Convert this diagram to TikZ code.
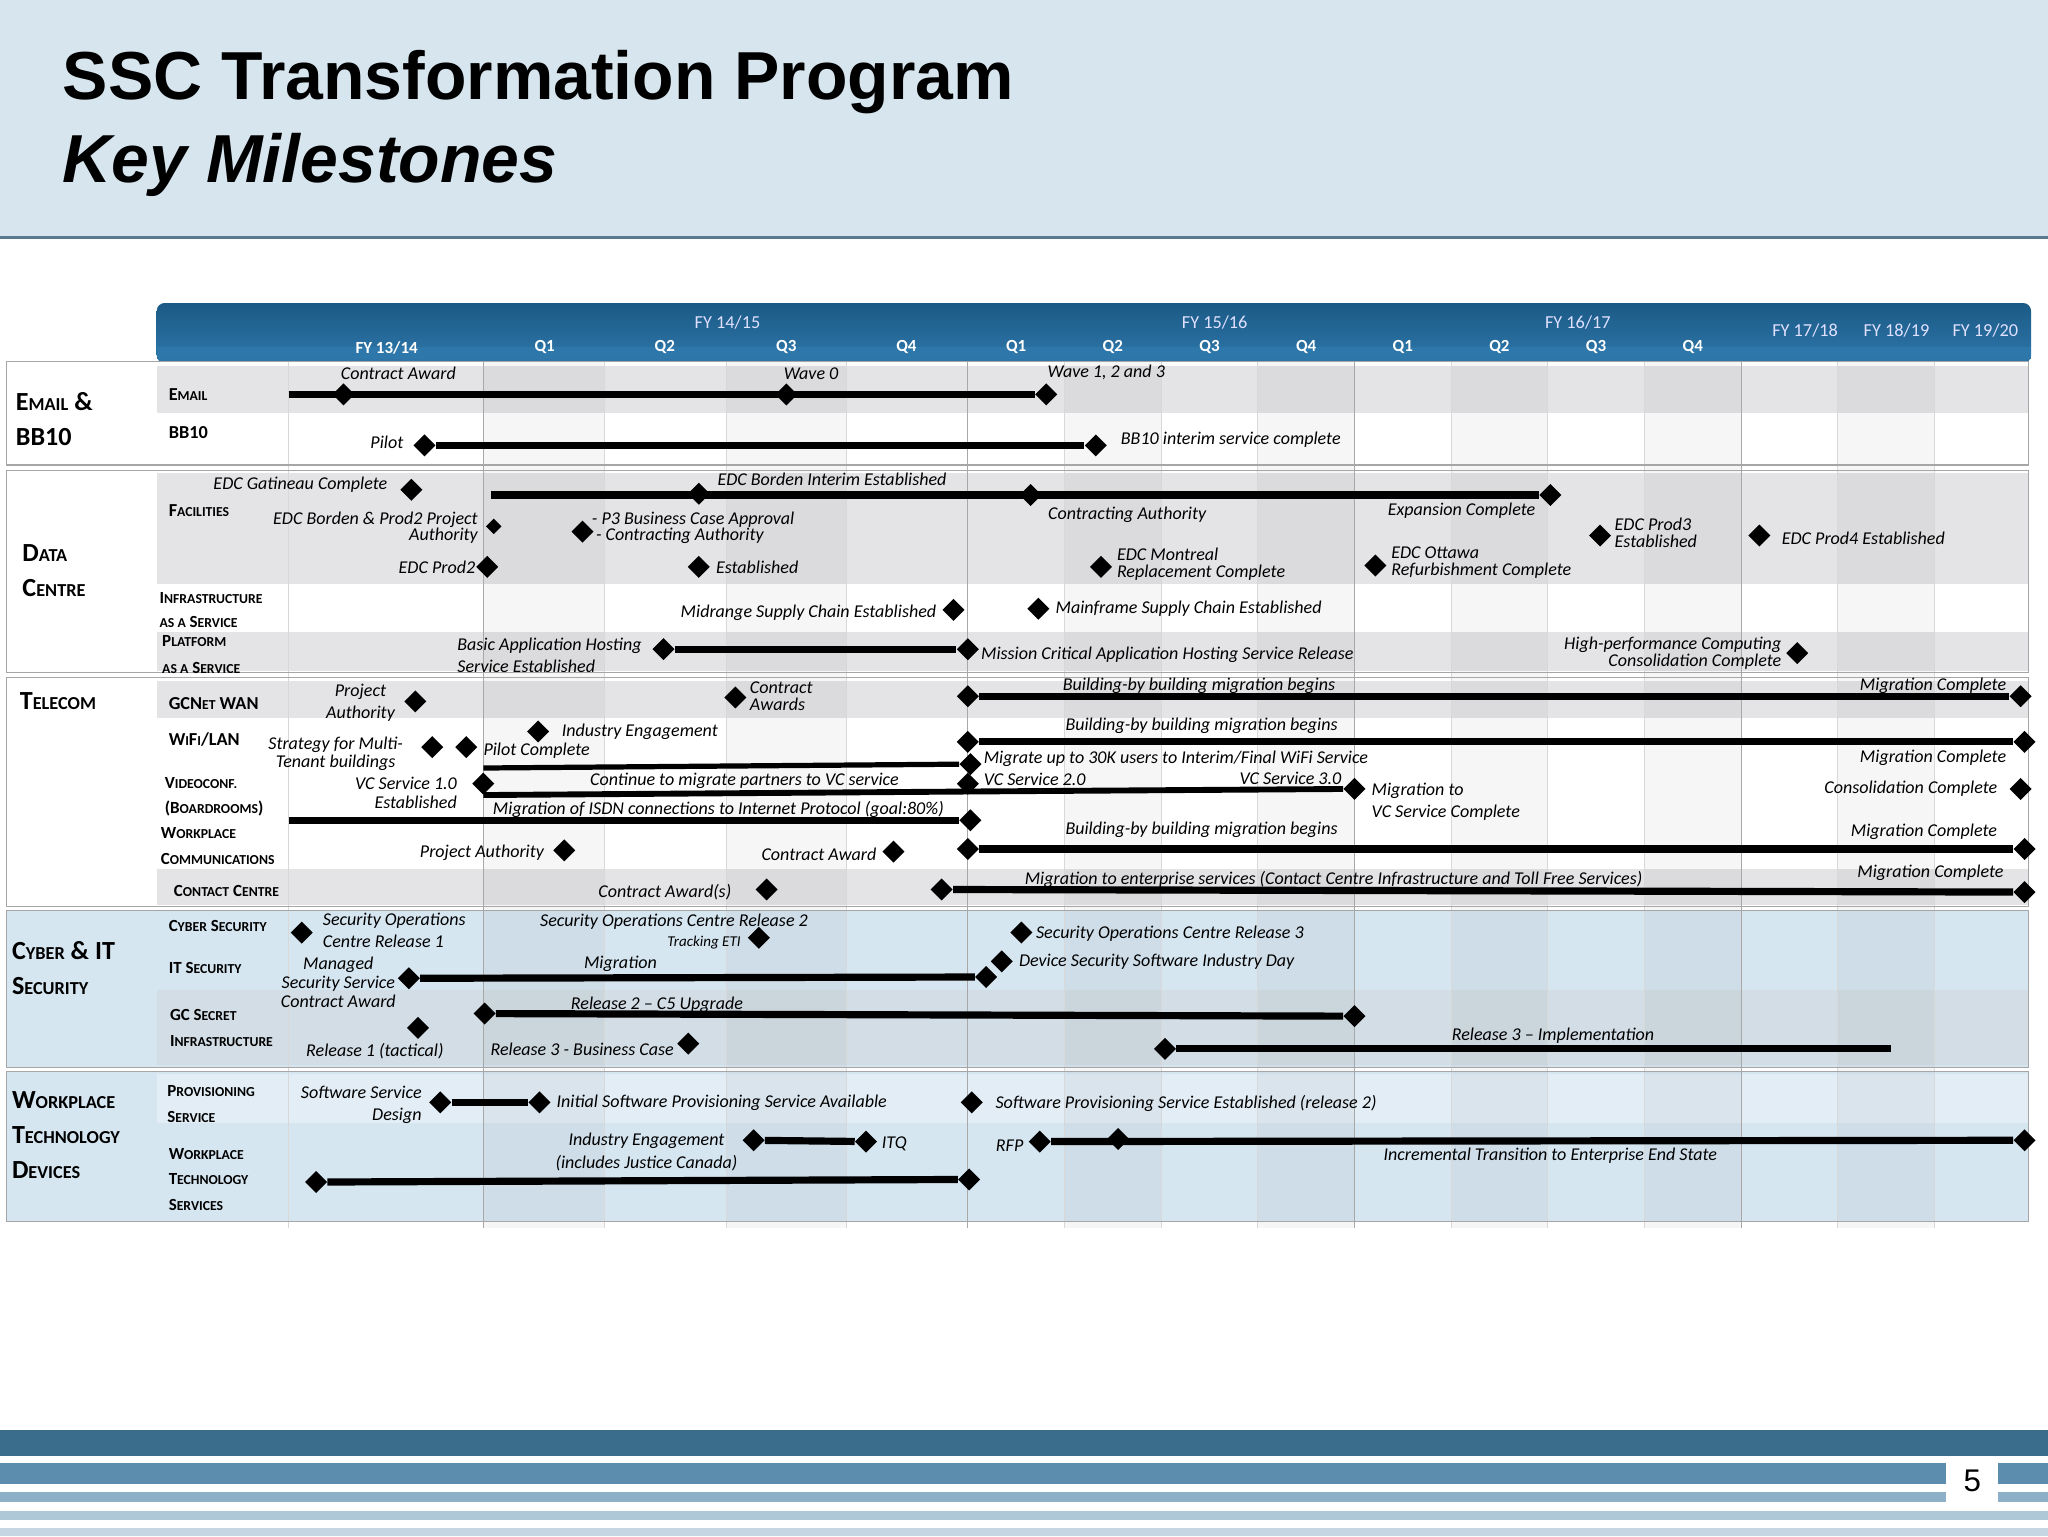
\documentclass[tikz,border=0pt]{standalone}
\usepackage{fontspec}
\setmainfont{Carlito}
\newfontfamily\titlefont{Liberation Sans}
\usetikzlibrary{shapes.geometric}
\definecolor{hdr}{HTML}{D7E5EF}
\definecolor{hline}{HTML}{5A7A90}
\definecolor{bartop}{HTML}{1B5A86}
\definecolor{barbot}{HTML}{2E77AA}
\definecolor{rowg}{HTML}{E4E4E6}
\definecolor{rowb}{HTML}{D6E6F1}
\definecolor{rowbg}{HTML}{D3DDE5}
\definecolor{gridl}{HTML}{D8D8D8}
\definecolor{gridd}{HTML}{A8A8A8}
\definecolor{f1}{HTML}{3A6C8C}
\definecolor{f2}{HTML}{5C8CAE}
\definecolor{f3}{HTML}{8DB0C8}
\newcommand\sm[1]{{\fontsize{10.5}{10.5}\selectfont #1}}
\newcommand\bsm[1]{{\fontsize{14}{14}\selectfont #1}}
\tikzset{
 ms/.style={diamond,fill=black,inner sep=0pt,minimum size=17pt},
 mss/.style={diamond,fill=black,inner sep=0pt,minimum size=12pt},
 bar/.style={line width=5.5pt},
 lb/.style={font=\fontsize{13.8}{14}\selectfont\itshape,inner sep=0pt,align=center},
 lbl/.style={lb,anchor=west,align=left},
 lbr/.style={lb,anchor=east,align=right},
 rl/.style={font=\bfseries\fontsize{14}{15}\selectfont,inner sep=0pt,anchor=west,align=left},
 sl/.style={font=\bfseries\fontsize{20}{27}\selectfont,inner sep=0pt,anchor=west,align=left},
 fy/.style={font=\fontsize{14}{14}\selectfont,text=white!88!blue,inner sep=0pt},
 qq/.style={font=\bfseries\fontsize{13}{13}\selectfont,text=white,inner sep=0pt},
}
\begin{document}
\begin{tikzpicture}[x=1pt,y=-1pt]
\useasboundingbox (0,0) rectangle (1568,1176);
\fill[white] (0,0) rectangle (1568,1176);
% header
\fill[hdr] (0,0) rectangle (1568,182);
\draw[hline,line width=2.5pt] (0,182) -- (1568,182);
\node[font=\titlefont\bfseries\fontsize{52}{52}\selectfont,anchor=west,inner sep=0] (t1) at (48,63) {SSC Transformation Program};
\node[font=\titlefont\bfseries\itshape\fontsize{52}{52}\selectfont,anchor=west,inner sep=0] (t2) at (48,126) {Key Milestones};
% timeline bar
\shade[top color=bartop,bottom color=barbot,rounded corners=6pt] (120,232) rectangle (1555,278);
\fill[barbot] (120,266) rectangle (1555,275);
\foreach \x/\t in {557/{FY 14/15},930/{FY 15/16},1208/{FY 16/17}}{\node[fy] at (\x,247) {\t};}
\foreach \x/\t in {1382/{FY 17/18},1452/{FY 18/19},1520/{FY 19/20}}{\node[fy] at (\x,253) {\t};}
\foreach \x/\t in {296/{FY 13/14},417/Q1,509/Q2,602/Q3,694/Q4,778/Q1,852/Q2,926/Q3,1000/Q4,1074/Q1,1148/Q2,1222/Q3,1296/Q4}{\node[qq] at (\x,266) {\t};}
% section boxes
\foreach \a/\b in {277/356,360/515,519/694}{\fill[white] (5,\a) rectangle (1553,\b);}
\foreach \a/\b in {697/817,820/935}{\fill[rowb] (5,\a) rectangle (1553,\b);}
% row bands
\fill[rowg] (120,280) rectangle (1553,316);
\fill[rowg] (120,362) rectangle (1553,447);
\fill[rowg] (120,484) rectangle (1553,514);
\fill[rowg] (120,521) rectangle (1553,550);
\fill[rowg] (120,665) rectangle (1553,693);
\fill[rowbg] (120,758) rectangle (1553,815);
\fill[rowb!70!white] (120,822) rectangle (1553,860);
% column stripes
\foreach \a/\b in {370/463,556/648,815/889,963/1037,1111/1185,1259/1333,1407/1481}{\fill[black,opacity=0.035] (\a,277) rectangle (\b,940);}
\foreach \x in {221,463,556,648,815,889,963,1111,1185,1259,1407,1481}{\draw[gridl,line width=0.6pt] (\x,277) -- (\x,940);}
\foreach \x in {370,741,1037,1333}{\draw[gridd,line width=0.8pt] (\x,277) -- (\x,940);}
\foreach \a/\b in {277/356,360/515,519/694,697/817,820/935}{\draw[gray!70,line width=0.8pt] (5,\a) rectangle (1553,\b);}
% section labels
\node[sl] (s1) at (12,321) {E\bsm{MAIL} \&\\BB10};
\node[sl] (s2) at (17,437) {D\bsm{ATA}\\C\bsm{ENTRE}};
\node[sl] (s3) at (15,537) {T\bsm{ELECOM}};
\node[sl] (s4) at (9,741) {C\bsm{YBER} \& IT\\S\bsm{ECURITY}};
\node[sl] (s5) at (9,869) {W\bsm{ORKPLACE}\\T\bsm{ECHNOLOGY}\\D\bsm{EVICES}};
% row labels
\node[rl] at (129,302) {E\sm{MAIL}};
\node[rl] at (129,331) {BB10};
\node[rl] at (129,391) {F\sm{ACILITIES}};
\node[rl,font=\bfseries\fontsize{13}{19}\selectfont] at (122,467) {I\sm{NFRASTRUCTURE}\\\sm{AS A} S\sm{ERVICE}};
\node[rl,font=\bfseries\fontsize{13}{21}\selectfont] at (124,501) {P\sm{LATFORM}\\\sm{AS A} S\sm{ERVICE}};
\node[rl] at (129,539) {GCN\sm{ET} WAN};
\node[rl] at (129,566) {W\sm{I}F\sm{I}/LAN};
\node[rl,font=\bfseries\fontsize{13}{19}\selectfont] at (126,610) {V\sm{IDEOCONF.}\\(B\sm{OARDROOMS})};
\node[rl,font=\bfseries\fontsize{13}{20}\selectfont] at (123,648) {W\sm{ORKPLACE}\\C\sm{OMMUNICATIONS}};
\node[rl,font=\bfseries\fontsize{13}{13}\selectfont] at (133,682) {C\sm{ONTACT} C\sm{ENTRE}};
\node[rl,font=\bfseries\fontsize{13}{13}\selectfont] at (129,709) {C\sm{YBER} S\sm{ECURITY}};
\node[rl,font=\bfseries\fontsize{13}{13}\selectfont] at (129,741) {IT S\sm{ECURITY}};
\node[rl,font=\bfseries\fontsize{13}{20}\selectfont] at (130,787) {GC S\sm{ECRET}\\I\sm{NFRASTRUCTURE}};
\node[rl,font=\bfseries\fontsize{13}{20}\selectfont] at (128,845) {P\sm{ROVISIONING}\\S\sm{ERVICE}};
\node[rl,font=\bfseries\fontsize{13}{19.5}\selectfont] at (129,903) {W\sm{ORKPLACE}\\T\sm{ECHNOLOGY}\\S\sm{ERVICES}};
% ===== Email
\coordinate (e0) at (221,302);
\node[ms] (e1) at (263,302) {}; \node[ms] (e2) at (602,302) {}; \node[ms] (e3) at (801,302) {};
\draw[bar] (e0) -- (e3);
\node[lb] at (305,286) {Contract Award}; \node[lb] at (621,286) {Wave 0}; \node[lb] at (847,285) {Wave 1, 2 and 3};
\node[ms] (b1) at (325,341) {}; \node[ms] (b2) at (839,341) {}; \draw[bar] (b1) -- (b2);
\node[lbr] at (309,339) {Pilot}; \node[lbl] at (858,337) {BB10 interim service complete};
% ===== Data centre
\node[lb] at (230,371) {EDC Gatineau Complete}; \node[ms] (d0) at (315,375) {};
\coordinate (d1) at (376,379); \node[ms] (d2) at (535,378) {}; \node[ms] (d3) at (789,379) {}; \node[ms] (d4) at (1187,379) {};
\draw[bar] (d1) -- (d4);
\node[lb] at (637,367) {EDC Borden Interim Established}; \node[lb] at (863,394) {Contracting Authority}; \node[lb] at (1119,391) {Expansion Complete};
\node[lbr,font=\fontsize{13.8}{13}\selectfont\itshape] at (366,404) {EDC Borden \& Prod2 Project\\Authority}; \node[mss] (d5) at (378,403) {};
\node[ms] (d6) at (446,407) {}; \node[lbl,font=\fontsize{13.8}{12}\selectfont\itshape] at (453,404) {- P3 Business Case Approval\\\ - Contracting Authority};
\node[lbr] at (364,434) {EDC Prod2}; \node[ms] (d7) at (373,434) {};
\node[ms] (d8) at (535,434) {}; \node[lbl] at (548,434) {Established};
\node[ms] (d9) at (843,434) {}; \node[lbl,font=\fontsize{13.8}{13}\selectfont\itshape] at (855,432) {EDC Montreal\\Replacement Complete};
\node[ms] (d10) at (1053,433) {}; \node[lbl,font=\fontsize{13.8}{13}\selectfont\itshape] at (1065,431) {EDC Ottawa\\Refurbishment Complete};
\node[ms] (d11) at (1225,410) {}; \node[lbl,font=\fontsize{13.8}{13}\selectfont\itshape] at (1236,408) {EDC Prod3\\Established};
\node[ms] (d12) at (1347,410) {}; \node[lbl] at (1364,412) {EDC Prod4 Established};
\node[ms] (i1) at (730,467) {}; \node[lbr] at (717,469) {Midrange Supply Chain Established};
\node[ms] (i2) at (795,466) {}; \node[lbl] at (808,466) {Mainframe Supply Chain Established};
\node[lbl,font=\fontsize{13.8}{17}\selectfont\itshape] at (350,502) {Basic Application Hosting\\Service Established};
\node[ms] (p1) at (508,497) {}; \node[ms] (p2) at (741,497) {}; \draw[bar] (p1) -- (p2);
\node[lbl] at (751,501) {Mission Critical Application Hosting Service Release};
\node[lbr,font=\fontsize{13.8}{13}\selectfont\itshape] at (1364,500) {High-performance Computing\\Consolidation Complete}; \node[ms] (p3) at (1376,500) {};
% ===== Telecom
\node[lb,font=\fontsize{13.8}{17}\selectfont\itshape] at (276,538) {Project\\Authority}; \node[ms] (g1) at (318,537) {};
\node[ms] (g2) at (563,534) {}; \node[lbl,font=\fontsize{13.8}{13}\selectfont\itshape] at (574,533) {Contract\\Awards};
\node[ms] (g3) at (741,533) {}; \node[ms] (g4) at (1547,533) {}; \draw[bar] (g3) -- (g4);
\node[lb] at (918,525) {Building-by building migration begins}; \node[lb] at (1480,525) {Migration Complete};
\node[lb,font=\fontsize{13.8}{14}\selectfont\itshape] at (257,577) {Strategy for Multi-\\Tenant buildings};
\node[ms] (w1) at (331,572) {}; \node[ms] (w2) at (357,572) {};
\node[ms] (w3) at (412,560) {}; \node[lbl] at (430,560) {Industry Engagement}; \node[lbl] at (370,575) {Pilot Complete};
\node[ms] (w4) at (741,568) {}; \node[ms] (w5) at (1550,568) {}; \draw[bar] (w4) -- (w5);
\node[lb] at (920,556) {Building-by building migration begins}; \node[lbl] at (753,581) {Migrate up to 30K users to Interim/Final  WiFi Service};
\node[lb] at (1480,580) {Migration Complete};
\coordinate (w6) at (370,588); \node[ms] (w7) at (743,585) {}; \draw[line width=4pt] (w6) -- (w7);
\node[lbr,font=\fontsize{13.8}{14}\selectfont\itshape] at (350,607) {VC Service 1.0\\Established};
\node[ms] (v1) at (370,600) {}; \node[ms] (v2) at (741,600) {}; \node[ms] (v3) at (1037,604) {};
\draw[line width=4.5pt] (v1.south) -- (741,606) -- (v3);
\node[lb] at (570,598) {Continue to migrate partners to VC service};
\node[lbl] at (753,597) {VC Service 2.0}; \node[lb] at (988,596) {VC Service 3.0};
\node[lbl,font=\fontsize{13.8}{17}\selectfont\itshape] at (1050,614) {Migration to\\VC Service Complete};
\node[lb] at (1463,604) {Consolidation Complete}; \node[ms] (v4) at (1547,604) {};
\coordinate (v5) at (221,628); \node[ms] (v6) at (743,628) {}; \draw[bar] (v5) -- (v6);
\node[lb] at (550,620) {Migration of ISDN connections to  Internet Protocol (goal:80\%)};
\node[lb] at (369,653) {Project Authority}; \node[ms] (c1) at (432,651) {};
\node[lb] at (627,654) {Contract Award}; \node[ms] (c2) at (684,652) {};
\node[ms] (c3) at (741,650) {}; \node[ms] (c4) at (1550,650) {}; \draw[bar] (c3) -- (c4);
\node[lb] at (920,635) {Building-by building migration begins}; \node[lb] at (1473,637) {Migration Complete};
\node[lb] at (509,683) {Contract Award(s)}; \node[ms] (k1) at (587,681) {};
\node[ms] (k2) at (721,681) {}; \node[ms] (k3) at (1550,683) {}; \draw[bar] (k2) -- (k3);
\node[lb] at (1021,673) {Migration to enterprise services (Contact Centre Infrastructure and Toll Free Services)};
\node[lb] at (1478,668) {Migration Complete};
% ===== Cyber
\node[ms] (y1) at (231,714) {}; \node[lbl,font=\fontsize{13.8}{17}\selectfont\itshape] at (247,712) {Security Operations\\Centre Release 1};
\node[lb] at (516,706) {Security Operations Centre Release 2}; \node[lb,font=\fontsize{11.5}{11}\selectfont\itshape] at (539,722) {Tracking ETI}; \node[ms] (y2) at (581,718) {};
\node[ms] (y3) at (782,714) {}; \node[lbl] at (793,715) {Security Operations Centre Release 3};
\node[ms] (y4) at (767,736) {}; \node[lbl] at (780,736) {Device Security Software Industry Day};
\node[lb,font=\fontsize{13.8}{14.5}\selectfont\itshape] at (259,752) {Managed\\Security Service\\Contract Award};
\node[ms] (y5) at (313,749) {}; \node[ms] (y6) at (755,748) {}; \draw[bar] (y5) -- (y6);
\node[lb] at (475,738) {Migration};
\node[ms] (x1) at (371,776) {}; \node[ms] (x2) at (1037,778) {}; \draw[bar] (x1) -- (x2);
\node[lb] at (503,769) {Release 2 -- C5 Upgrade};
\node[ms] (x3) at (320,787) {}; \node[lb] at (287,805) {Release 1 (tactical)};
\node[ms] (x4) at (527,799) {}; \node[lbr] at (516,803) {Release 3 - Business Case};
\node[ms] (x5) at (892,803) {}; \coordinate (x6) at (1448,803); \draw[bar] (x5) -- (x6);
\node[lb] at (1189,793) {Release 3 -- Implementation};
% ===== Workplace
\node[lbr,font=\fontsize{13.8}{17}\selectfont\itshape] at (323,846) {Software Service\\Design};
\node[ms] (z1) at (337,844) {}; \node[ms] (z2) at (413,844) {}; \draw[bar] (z1) -- (z2);
\node[lbl] at (426,844) {Initial Software Provisioning Service Available};
\node[ms] (z3) at (744,844) {}; \node[lbl] at (762,845) {Software Provisioning Service Established (release 2)};
\node[lb,font=\fontsize{13.8}{17}\selectfont\itshape] at (495,882) {Industry Engagement\\(includes Justice Canada)};
\node[ms] (z4) at (577,873) {}; \node[ms] (z5) at (663,874) {}; \draw[bar] (z4) -- (z5);
\node[lbl] at (675,876) {ITQ}; \node[lb] at (773,877) {RFP};
\node[ms] (z6) at (796,874) {}; \node[ms] (z7) at (856,872) {}; \node[ms] (z8) at (1550,873) {}; \draw[bar] (z6) -- (z8);
\node[lb] at (1187,885) {Incremental Transition to Enterprise  End State};
\node[ms] (z9) at (242,905) {}; \node[ms] (z10) at (742,903) {}; \draw[bar] (z9) -- (z10);
% footer
\fill[f1] (0,1095) rectangle (1568,1115);
\fill[f2] (0,1120) rectangle (1568,1136);
\fill[f3] (0,1142) rectangle (1568,1150);
\fill[f3!70!white] (0,1157) rectangle (1568,1164);
\fill[f3!50!white] (0,1170) rectangle (1568,1176);
\fill[white] (1490,1117) rectangle (1530,1152);
\node[font=\titlefont\fontsize{24}{24}\selectfont,inner sep=0] (pg) at (1510,1134) {5};
\end{tikzpicture}
\end{document}
